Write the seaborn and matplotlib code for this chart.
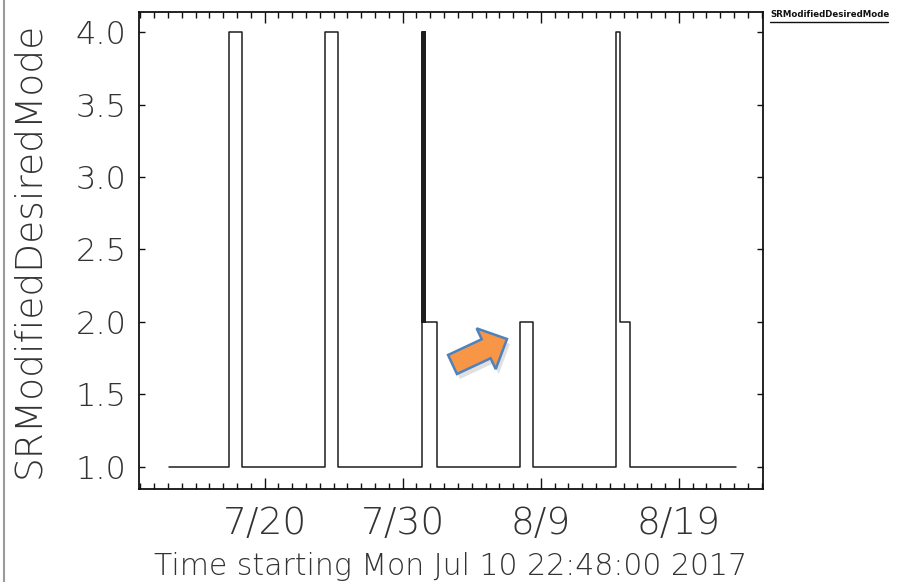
import numpy as np
import pandas as pd
import matplotlib
matplotlib.use("Agg")
import matplotlib.pyplot as plt
import seaborn as sns
from matplotlib.patches import FancyArrow
from matplotlib.lines import Line2D
from matplotlib.ticker import FixedLocator, FormatStrFormatter, MultipleLocator
from matplotlib.transforms import IdentityTransform

# ---- data (time in days since start, value after the change) ----
start = pd.Timestamp("2017-07-10 22:48:00")
change_days = [2.10, 6.45, 7.39, 13.41, 14.35,
               20.43, 20.46, 20.49, 20.52, 20.55, 20.58, 20.61, 20.64, 20.67, 20.70,
               21.52, 27.54, 28.48, 34.49, 34.78, 35.51, 43.19]
mode_values = [1, 4, 1, 4, 1,
               4, 2, 4, 2, 4, 2, 4, 2, 4, 2,
               1, 2, 1, 4, 2, 1, 1]
tick_dates = ["2017-07-20", "2017-07-30", "2017-08-09", "2017-08-19"]
tick_labels = ["7/20", "7/30", "8/9", "8/19"]
series_name = "SRModifiedDesiredMode"
xlabel = "Time starting Mon Jul 10 22:48:00 2017"

df = pd.DataFrame({"day": change_days, "mode": mode_values})

sns.set_style("ticks")
plt.rcParams["font.family"] = ["DejaVu Sans"]
txt_color = "#333333"

fig = plt.figure(figsize=(8.97, 5.82), dpi=100)
ax = fig.add_axes([139 / 897, 1 - 489 / 582, (763 - 139) / 897, (489 - 12) / 582])

sns.lineplot(data=df, x="day", y="mode", ax=ax, estimator=None, sort=False,
             drawstyle="steps-post", color="#1e1e1e", linewidth=1.1)

ax.set_xlim(-0.05, 45.15)
ax.set_ylim(0.848, 4.138)

tick_pos = [(pd.Timestamp(d) - start) / pd.Timedelta(days=1) for d in tick_dates]
ax.xaxis.set_major_locator(FixedLocator(tick_pos))
ax.set_xticklabels(tick_labels)
first_midnight = (pd.Timestamp("2017-07-11") - start) / pd.Timedelta(days=1)
ax.xaxis.set_minor_locator(FixedLocator(np.arange(first_midnight, 45.2, 1.0)))
ax.yaxis.set_major_locator(MultipleLocator(0.5))
ax.yaxis.set_major_formatter(FormatStrFormatter("%.1f"))

for s in ax.spines.values():
    s.set_color("#111111")
    s.set_linewidth(1.3)

ax.tick_params(axis="x", which="major", direction="in", length=8, width=1.0,
               top=True, bottom=True, labelsize=27, pad=12, labelcolor=txt_color,
               color="#111111")
ax.tick_params(axis="x", which="minor", direction="in", length=4, width=1.0,
               top=True, bottom=True, color="#111111")
ax.tick_params(axis="y", which="major", direction="in", length=4, width=1.0,
               left=True, right=True, labelsize=23, pad=9, labelcolor=txt_color,
               color="#111111")
for lab in ax.get_xticklabels() + ax.get_yticklabels():
    lab.set_fontweight("light")

ax.set_xlabel(xlabel, fontsize=21.5, color=txt_color, fontweight="light")
ax.xaxis.set_label_coords(0.5, (489 - 552) / 477)
ax.set_ylabel(series_name, fontsize=27, color=txt_color, fontweight="light")
ax.yaxis.set_label_coords((46 - 139) / 624, (489 - 250) / 477)

# legend-like label at top right, underlined
fig.text(770 / 897, 1 - 17 / 582, series_name, fontsize=6.2, fontweight="bold",
         color="#111111", ha="left", va="baseline")
fig.add_artist(Line2D([770 / 897, 888 / 897], [1 - 22 / 582, 1 - 22 / 582],
                      transform=fig.transFigure, color="#111111", linewidth=1.0))

# screenshot frame line on the left
fig.add_artist(Line2D([4 / 897, 4 / 897], [0, 1], transform=fig.transFigure,
                      color="#9a9a9a", linewidth=1.5))

# orange annotation arrow (pixel coordinates, origin bottom-left)
H = 582
tail = (452.5, H - 364.5)
tip = (507.0, H - 339.0)
dx, dy = tip[0] - tail[0], tip[1] - tail[1]
for off, fc, ec, a in [((3, -5), "#9a9a9a", "none", 0.3), ((0, 0), "#F79646", "#4F81BD", 1.0)]:
    arr = FancyArrow(tail[0] + off[0], tail[1] + off[1], dx, dy, width=21,
                     head_width=45, head_length=23, length_includes_head=True,
                     transform=IdentityTransform(), facecolor=fc, edgecolor=ec,
                     linewidth=1.8, alpha=a, zorder=10)
    fig.add_artist(arr)

fig.savefig("out.png", dpi=100)
